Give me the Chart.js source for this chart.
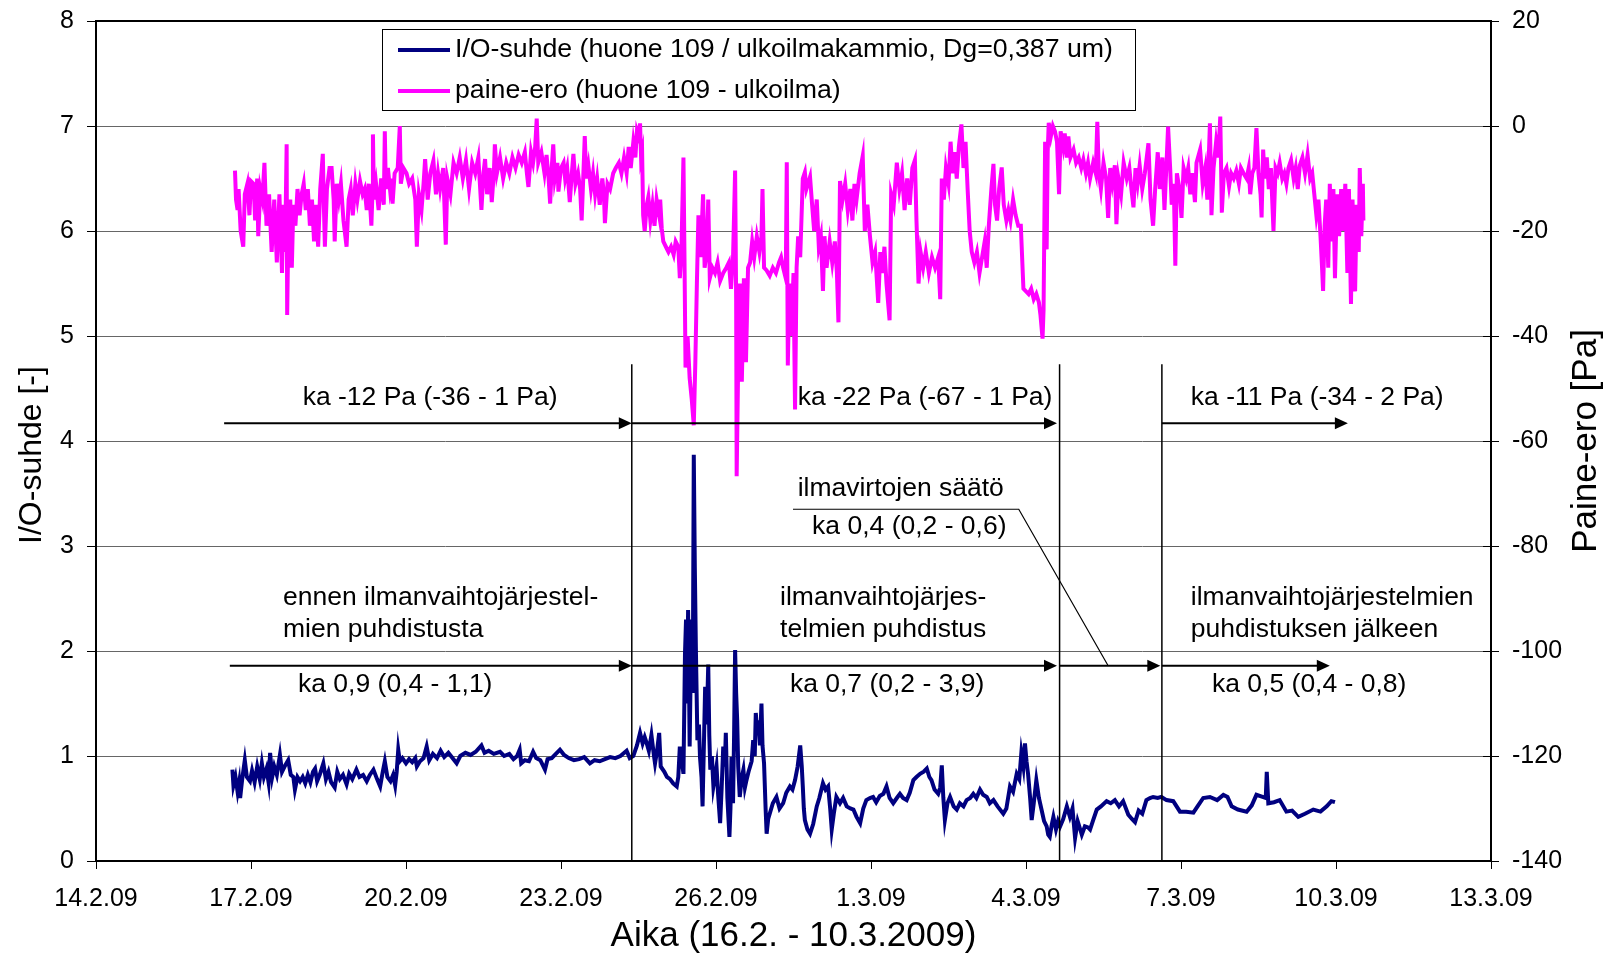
<!DOCTYPE html>
<html>
<head>
<meta charset="utf-8">
<title>I/O-suhde ja paine-ero</title>
<script src="https://cdn.jsdelivr.net/npm/chart.js@4.4.1/dist/chart.umd.min.js"></script>
<style>
  html, body { margin: 0; padding: 0; background: #fff; }
  #wrap { width: 1610px; height: 956px; }
</style>
</head>
<body>
<div id="wrap"><canvas id="ioChart" width="1610" height="956"></canvas></div>
<script>
// x = days since 14.2.2009 00:00
const xTickLabels = ['14.2.09', '17.2.09', '20.2.09', '23.2.09', '26.2.09', '1.3.09', '4.3.09', '7.3.09', '10.3.09', '13.3.09'];

const seriesLabels = [
  'I/O-suhde (huone 109 / ulkoilmakammio, Dg=0,387 um)',
  'paine-ero (huone 109 - ulkoilma)'
];

// I/O-suhde [-] (left axis), [day, value]
const ioRatio = [
  [2.64, 0.87], [2.66, 0.72], [2.70, 0.8], [2.74, 0.66], [2.77, 0.75], [2.79, 0.6], [2.83, 0.78], [2.88, 0.96],
  [2.92, 0.8], [2.98, 0.76], [3.02, 0.86], [3.07, 0.75], [3.12, 0.9], [3.17, 0.78], [3.21, 0.93], [3.25, 0.8],
  [3.30, 0.88], [3.34, 0.75], [3.37, 1.03], [3.41, 0.8], [3.45, 0.9], [3.50, 0.82], [3.56, 1.01], [3.60, 0.85],
  [3.65, 0.9], [3.72, 0.96], [3.77, 0.82], [3.82, 0.8], [3.85, 0.68], [3.90, 0.8], [3.95, 0.76], [4.00, 0.8],
  [4.05, 0.74], [4.10, 0.82], [4.15, 0.75], [4.20, 0.85], [4.24, 0.88], [4.28, 0.76], [4.33, 0.82], [4.40, 0.93],
  [4.45, 0.78], [4.50, 0.85], [4.55, 0.75], [4.62, 0.7], [4.67, 0.85], [4.72, 0.78], [4.78, 0.82], [4.85, 0.73],
  [4.90, 0.83], [4.96, 0.78], [5.04, 0.87], [5.10, 0.8], [5.17, 0.82], [5.24, 0.76], [5.30, 0.82], [5.37, 0.87],
  [5.44, 0.78], [5.50, 0.71], [5.55, 0.85], [5.59, 0.95], [5.64, 0.8], [5.70, 0.76], [5.75, 0.82], [5.79, 0.72],
  [5.82, 0.85], [5.85, 1.06], [5.88, 0.95], [5.93, 0.98], [6.00, 0.93], [6.06, 0.97], [6.12, 0.94], [6.18, 0.98],
  [6.21, 0.9], [6.27, 0.95], [6.34, 0.98], [6.40, 1.09], [6.45, 0.96], [6.52, 1.02], [6.60, 0.98], [6.67, 1.05],
  [6.74, 0.99], [6.82, 1.03], [6.90, 0.98], [6.98, 0.93], [7.05, 1.0], [7.15, 1.03], [7.25, 1.01], [7.35, 1.04],
  [7.46, 1.1], [7.52, 1.03], [7.60, 1.05], [7.70, 1.02], [7.82, 1.04], [7.90, 1.0], [8.00, 1.02], [8.08, 0.97],
  [8.15, 1.0], [8.20, 1.06], [8.23, 0.93], [8.30, 0.96], [8.38, 0.95], [8.46, 1.04], [8.52, 0.98], [8.60, 0.96],
  [8.69, 0.87], [8.74, 0.97], [8.82, 0.98], [8.90, 1.02], [8.98, 1.06], [9.06, 1.01], [9.15, 0.98], [9.25, 0.96],
  [9.35, 0.97], [9.45, 0.99], [9.56, 0.93], [9.65, 0.96], [9.75, 0.95], [9.85, 0.97], [9.95, 0.99], [10.05, 0.98],
  [10.15, 1.0], [10.27, 1.05], [10.33, 0.98], [10.40, 1.0], [10.47, 1.1], [10.53, 1.22], [10.58, 1.12], [10.62, 1.18],
  [10.66, 1.12], [10.70, 1.05], [10.75, 1.2], [10.80, 1.0], [10.82, 0.93], [10.86, 1.05], [10.90, 1.22], [10.93, 0.9],
  [11.00, 0.85], [11.05, 0.8], [11.11, 0.78], [11.17, 0.74], [11.24, 0.71], [11.27, 0.8], [11.30, 1.09], [11.34, 0.95],
  [11.37, 0.83], [11.40, 1.98], [11.42, 2.3], [11.44, 1.5], [11.46, 2.39], [11.48, 1.6], [11.49, 1.09], [11.51, 1.8],
  [11.53, 2.3], [11.55, 1.6], [11.57, 3.87], [11.59, 2.8], [11.61, 2.04], [11.64, 1.15], [11.67, 1.3], [11.69, 0.99],
  [11.72, 0.8], [11.74, 0.52], [11.77, 1.2], [11.79, 1.66], [11.82, 1.3], [11.85, 1.87], [11.87, 1.2], [11.89, 0.87],
  [11.92, 1.0], [11.95, 0.71], [11.98, 0.8], [12.01, 0.9], [12.04, 0.64], [12.06, 0.5], [12.08, 0.36], [12.11, 0.7],
  [12.14, 1.09], [12.17, 0.9], [12.19, 1.22], [12.22, 0.6], [12.26, 0.23], [12.28, 0.5], [12.30, 0.99], [12.33, 0.55],
  [12.35, 1.2], [12.37, 2.01], [12.39, 1.6], [12.41, 1.34], [12.43, 0.9], [12.46, 0.61], [12.50, 0.8], [12.53, 0.87],
  [12.56, 0.7], [12.59, 0.77], [12.63, 0.85], [12.66, 0.9], [12.69, 0.95], [12.72, 1.15], [12.75, 1.0], [12.77, 1.41],
  [12.80, 1.2], [12.82, 1.34], [12.85, 1.1], [12.88, 1.5], [12.90, 1.1], [12.93, 0.93], [12.96, 0.5], [12.98, 0.26],
  [13.01, 0.4], [13.04, 0.45], [13.10, 0.55], [13.17, 0.61], [13.23, 0.5], [13.30, 0.55], [13.36, 0.65], [13.43, 0.71],
  [13.48, 0.68], [13.53, 0.77], [13.58, 0.9], [13.63, 1.1], [13.66, 0.9], [13.68, 0.71], [13.70, 0.5], [13.72, 0.39],
  [13.77, 0.3], [13.82, 0.26], [13.88, 0.35], [13.95, 0.52], [14.00, 0.6], [14.07, 0.74], [14.12, 0.68], [14.17, 0.71],
  [14.21, 0.5], [14.24, 0.3], [14.28, 0.45], [14.33, 0.61], [14.40, 0.55], [14.46, 0.6], [14.53, 0.52], [14.60, 0.5],
  [14.66, 0.49], [14.72, 0.42], [14.79, 0.36], [14.85, 0.5], [14.91, 0.58], [14.98, 0.6], [15.04, 0.61], [15.10, 0.56],
  [15.17, 0.62], [15.24, 0.64], [15.30, 0.71], [15.36, 0.6], [15.43, 0.55], [15.50, 0.6], [15.56, 0.64], [15.62, 0.6],
  [15.69, 0.58], [15.75, 0.65], [15.82, 0.77], [15.88, 0.8], [15.95, 0.83], [16.02, 0.85], [16.08, 0.88], [16.13, 0.8],
  [16.17, 0.77], [16.23, 0.68], [16.30, 0.64], [16.34, 0.7], [16.37, 0.91], [16.40, 0.6], [16.43, 0.39], [16.48, 0.55],
  [16.53, 0.61], [16.60, 0.52], [16.66, 0.49], [16.72, 0.55], [16.79, 0.52], [16.85, 0.58], [16.92, 0.6], [16.98, 0.64],
  [17.04, 0.6], [17.11, 0.68], [17.17, 0.63], [17.24, 0.61], [17.30, 0.55], [17.37, 0.58], [17.45, 0.52], [17.56, 0.45],
  [17.62, 0.5], [17.69, 0.71], [17.75, 0.66], [17.82, 0.83], [17.87, 0.78], [17.91, 1.03], [17.95, 0.9], [17.98, 1.12],
  [18.01, 0.95], [18.04, 0.83], [18.08, 0.6], [18.11, 0.39], [18.15, 0.55], [18.20, 0.77], [18.25, 0.6], [18.30, 0.49],
  [18.35, 0.38], [18.40, 0.33], [18.43, 0.25], [18.46, 0.23], [18.50, 0.35], [18.53, 0.42], [18.58, 0.3], [18.62, 0.38],
  [18.66, 0.33], [18.72, 0.4], [18.79, 0.52], [18.85, 0.42], [18.90, 0.5], [18.95, 0.22], [19.00, 0.38], [19.05, 0.3],
  [19.08, 0.25], [19.14, 0.33], [19.20, 0.32], [19.24, 0.3], [19.30, 0.39], [19.37, 0.49], [19.45, 0.52], [19.56, 0.57],
  [19.64, 0.55], [19.72, 0.58], [19.80, 0.52], [19.88, 0.57], [19.98, 0.44], [20.05, 0.4], [20.11, 0.37], [20.18, 0.48],
  [20.25, 0.45], [20.33, 0.58], [20.40, 0.6], [20.46, 0.61], [20.55, 0.6], [20.62, 0.61], [20.72, 0.58], [20.85, 0.57],
  [20.98, 0.47], [21.10, 0.47], [21.24, 0.46], [21.32, 0.52], [21.43, 0.6], [21.56, 0.61], [21.70, 0.58], [21.82, 0.63],
  [21.90, 0.61], [21.98, 0.52], [22.10, 0.49], [22.27, 0.47], [22.37, 0.53], [22.46, 0.63], [22.58, 0.61], [22.64, 0.6],
  [22.66, 0.85], [22.69, 0.55], [22.80, 0.56], [22.91, 0.58], [23.04, 0.47], [23.15, 0.48], [23.27, 0.42], [23.40, 0.45],
  [23.56, 0.49], [23.70, 0.47], [23.82, 0.52], [23.91, 0.57], [23.98, 0.56]
];

// paine-ero [Pa] (right axis), [day, value]
const pressureDiff = [
  [2.69, -8.5], [2.71, -14], [2.74, -16], [2.76, -12], [2.80, -20], [2.85, -23], [2.88, -13], [2.93, -11],
  [2.97, -17], [3.00, -10.5], [3.05, -11], [3.08, -18], [3.12, -10], [3.14, -21], [3.18, -12], [3.22, -14],
  [3.26, -7], [3.30, -19], [3.35, -13], [3.40, -24], [3.45, -14], [3.50, -26], [3.55, -13], [3.60, -28],
  [3.63, -15], [3.66, -24], [3.69, -3.5], [3.70, -36], [3.72, -22], [3.76, -14], [3.79, -27], [3.82, -15],
  [3.86, -19], [3.90, -12], [3.94, -17], [3.98, -13], [4.02, -11], [4.06, -16], [4.10, -12], [4.14, -19],
  [4.18, -14], [4.22, -22], [4.26, -15], [4.30, -23], [4.34, -12], [4.39, -5.3], [4.41, -15], [4.43, -23],
  [4.47, -12], [4.52, -8], [4.56, -8], [4.60, -14], [4.62, -22], [4.66, -11], [4.70, -14], [4.74, -11],
  [4.79, -18], [4.85, -23], [4.89, -14], [4.93, -12], [4.97, -17], [5.02, -11], [5.06, -14], [5.11, -10.5],
  [5.16, -13], [5.20, -12], [5.24, -16], [5.28, -11], [5.33, -19], [5.35, -13], [5.36, -1.6], [5.38, -14],
  [5.42, -11], [5.47, -16], [5.52, -10], [5.57, -15], [5.59, -1], [5.61, -12], [5.65, -8], [5.69, -12],
  [5.72, -10], [5.74, -14.8], [5.78, -9], [5.84, -8], [5.88, 0], [5.90, -11], [5.95, -8], [6.01, -9],
  [6.06, -11], [6.12, -10], [6.18, -14], [6.21, -23], [6.25, -13], [6.30, -16], [6.34, -11], [6.37, -6.3],
  [6.42, -14], [6.47, -9], [6.53, -6.6], [6.58, -13], [6.62, -9], [6.66, -12], [6.72, -8], [6.77, -22.6],
  [6.80, -10], [6.86, -13], [6.92, -7], [6.98, -9], [7.04, -6], [7.10, -10], [7.16, -6.5], [7.22, -12],
  [7.28, -7], [7.34, -9], [7.40, -6], [7.46, -16], [7.50, -9], [7.53, -6.3], [7.57, -13], [7.62, -8],
  [7.66, -14.5], [7.70, -9], [7.72, -3.5], [7.76, -9], [7.82, -6], [7.88, -10], [7.94, -7], [8.00, -9],
  [8.06, -6], [8.12, -8], [8.18, -5.5], [8.24, -7], [8.30, -5], [8.34, -9], [8.37, -11.6], [8.42, -5],
  [8.46, -7], [8.50, -4], [8.53, 1.4], [8.56, -7], [8.62, -5], [8.68, -9], [8.72, -5.5], [8.76, -10],
  [8.79, -14.8], [8.82, -8], [8.85, -3.5], [8.88, -10], [8.93, -7], [8.95, -12.5], [9.00, -8], [9.05, -7],
  [9.08, -10], [9.12, -8], [9.17, -14.5], [9.21, -9], [9.24, -5.3], [9.28, -11], [9.33, -9], [9.37, -12],
  [9.40, -18], [9.43, -10], [9.46, -1.9], [9.49, -10], [9.53, -7.5], [9.58, -12], [9.62, -9], [9.66, -13],
  [9.70, -10], [9.75, -15], [9.80, -10], [9.83, -13], [9.85, -18.5], [9.90, -11], [9.95, -12], [10.01, -9],
  [10.06, -8], [10.12, -7], [10.17, -9], [10.22, -6], [10.27, -9], [10.31, -4], [10.35, -8], [10.40, -3],
  [10.44, -6], [10.47, -1], [10.50, -2], [10.53, 0.5], [10.55, -6], [10.57, -5], [10.59, -17], [10.62, -20],
  [10.66, -15], [10.69, -13.5], [10.73, -18], [10.77, -15], [10.81, -19], [10.85, -14], [10.90, -17], [10.92, -14],
  [10.95, -19.5], [10.98, -22], [11.03, -23], [11.08, -24], [11.13, -23], [11.18, -24.5], [11.22, -22], [11.27, -23],
  [11.30, -29], [11.33, -24], [11.37, -6], [11.39, -25], [11.41, -46], [11.45, -40], [11.49, -48], [11.53, -52],
  [11.57, -57], [11.60, -45], [11.63, -30], [11.66, -17], [11.70, -25], [11.75, -13], [11.78, -27], [11.82, -24],
  [11.85, -14], [11.88, -29], [11.93, -27], [11.98, -28], [12.03, -26], [12.08, -29.5], [12.14, -28], [12.20, -27],
  [12.25, -26], [12.29, -31], [12.33, -25], [12.37, -8.5], [12.39, -33], [12.40, -66.7], [12.43, -45], [12.46, -30],
  [12.50, -48.7], [12.54, -29], [12.58, -45], [12.62, -27], [12.66, -26], [12.70, -22], [12.74, -25], [12.79, -21],
  [12.84, -24], [12.88, -21], [12.90, -12], [12.93, -27], [12.98, -27.5], [13.04, -28.5], [13.10, -27], [13.16, -28],
  [13.22, -26], [13.26, -25], [13.30, -27], [13.35, -29], [13.37, -6.9], [13.39, -45.6], [13.42, -30], [13.46, -40],
  [13.50, -28], [13.53, -54], [13.56, -27], [13.59, -21], [13.63, -25], [13.68, -10], [13.72, -8.8], [13.75, -12],
  [13.78, -11], [13.82, -9.7], [13.86, -15], [13.90, -20], [13.95, -14], [13.99, -23], [14.03, -21], [14.07, -31.4],
  [14.10, -21], [14.14, -27], [14.20, -22], [14.25, -26], [14.30, -22], [14.34, -28], [14.37, -37.4], [14.40, -10.5],
  [14.45, -14], [14.50, -11], [14.55, -16], [14.60, -12], [14.64, -18], [14.68, -11], [14.72, -14], [14.78, -9],
  [14.84, -5.7], [14.88, -20], [14.93, -15], [14.98, -21], [15.03, -26], [15.08, -24], [15.14, -33.7], [15.18, -24],
  [15.22, -28], [15.26, -23], [15.30, -30], [15.36, -37], [15.39, -13], [15.44, -15], [15.50, -7], [15.55, -12],
  [15.60, -9], [15.65, -16], [15.70, -10], [15.75, -15], [15.80, -8], [15.85, -6.5], [15.88, -18], [15.92, -30],
  [15.96, -24], [16.01, -27], [16.06, -24], [16.12, -28], [16.18, -25], [16.24, -27], [16.30, -25], [16.34, -33],
  [16.37, -10], [16.41, -14], [16.45, -8], [16.50, -11], [16.54, -3], [16.58, -9], [16.62, -5], [16.66, -10],
  [16.70, -4], [16.75, 0.3], [16.79, -8], [16.83, -3], [16.87, -12], [16.91, -20], [16.95, -24], [17.00, -26],
  [17.05, -24], [17.10, -28], [17.15, -25], [17.20, -22], [17.24, -27], [17.28, -19], [17.33, -12], [17.37, -7.2],
  [17.40, -15], [17.44, -18], [17.48, -12], [17.53, -7.9], [17.57, -15], [17.62, -18], [17.66, -16], [17.70, -18],
  [17.75, -14], [17.80, -17], [17.85, -19], [17.90, -19], [17.95, -31], [18.00, -31.5], [18.05, -32], [18.10, -31],
  [18.15, -33], [18.20, -32], [18.25, -33.6], [18.28, -36], [18.32, -40.5], [18.34, -35], [18.37, -3], [18.40, -23.5],
  [18.42, -5], [18.44, 0.6], [18.48, -2], [18.52, 0], [18.56, -1], [18.60, -3], [18.64, -13], [18.67, -1],
  [18.72, -4], [18.75, -1.4], [18.79, -6], [18.82, -2], [18.86, -6], [18.92, -4.5], [18.97, -7], [19.02, -6],
  [19.07, -8], [19.11, -6.4], [19.16, -9], [19.20, -7], [19.24, -10], [19.30, -7], [19.35, -9], [19.38, 0.8],
  [19.41, -9], [19.45, -12], [19.50, -7], [19.55, -10], [19.59, -17.5], [19.63, -8], [19.67, -11], [19.72, -7.5],
  [19.75, -18.7], [19.79, -10], [19.84, -13], [19.89, -7], [19.95, -10], [20.00, -8], [20.04, -12], [20.08, -15.5],
  [20.12, -8], [20.16, -11], [20.20, -7.5], [20.25, -12], [20.30, -9], [20.37, -3.3], [20.41, -14], [20.46, -19],
  [20.50, -12], [20.55, -5], [20.59, -12], [20.64, -6], [20.68, -16], [20.72, -7], [20.75, -0.1], [20.79, -8],
  [20.82, -15], [20.86, -11], [20.89, -26.6], [20.92, -9], [20.97, -12], [21.01, -17.5], [21.05, -8], [21.10, -10],
  [21.14, -8], [21.18, -13], [21.22, -9], [21.27, -14.5], [21.30, -7], [21.37, -4.5], [21.42, -11], [21.47, -8],
  [21.51, -14], [21.56, 0.5], [21.59, -17], [21.63, -8], [21.68, -3], [21.72, -6], [21.76, 1.8], [21.79, -16.5],
  [21.83, -9], [21.88, -8], [21.93, -11.5], [21.97, -9], [22.02, -10], [22.07, -8.5], [22.12, -11], [22.16, -8],
  [22.21, -9], [22.27, -10], [22.31, -8], [22.34, -13], [22.38, -9], [22.42, -8], [22.46, -0.4], [22.50, -9],
  [22.54, -13], [22.56, -17.4], [22.59, -4.5], [22.62, -10], [22.66, -6], [22.70, -12], [22.74, -8], [22.79, -20],
  [22.83, -8], [22.87, -9], [22.91, -7], [22.96, -10], [23.00, -9], [23.04, -11], [23.08, -8], [23.13, -6.5],
  [23.18, -10], [23.22, -8], [23.26, -12], [23.30, -7.5], [23.35, -6], [23.40, -9], [23.45, -5.5], [23.50, -10],
  [23.54, -9], [23.58, -13], [23.62, -17], [23.66, -14], [23.70, -21], [23.73, -27], [23.75, -31.4], [23.78, -19],
  [23.81, -14], [23.85, -27], [23.88, -11], [23.92, -22], [23.95, -12], [23.98, -29], [24.02, -13], [24.06, -21],
  [24.10, -12], [24.14, -20], [24.18, -11], [24.22, -28], [24.25, -12], [24.29, -33.9], [24.32, -14], [24.35, -25],
  [24.37, -31.5], [24.40, -15], [24.44, -24], [24.46, -8], [24.49, -21], [24.52, -11], [24.53, -18]
];

// period borders (days) and the annotation texts
const phaseBorders = [10.37, 18.65, 20.63];
const pressureNotes = ['ka -12 Pa (-36 - 1 Pa)', 'ka -22 Pa (-67 - 1 Pa)', 'ka -11 Pa (-34 - 2 Pa)'];
const ratioNotes = ['ka 0,9 (0,4 - 1,1)', 'ka 0,7 (0,2 - 3,9)', 'ka 0,5 (0,4 - 0,8)'];
const phaseNames = [
  ['ennen ilmanvaihtojärjestel-', 'mien puhdistusta'],
  ['ilmanvaihtojärjes-', 'telmien puhdistus'],
  ['ilmanvaihtojärjestelmien', 'puhdistuksen jälkeen']
];
const adjustNote = ['ilmavirtojen säätö', 'ka 0,4 (0,2 - 0,6)'];

const FONT = '"Liberation Sans", Arial, sans-serif';
const TICK_FONT = { family: FONT, size: 25 };

function arrow(ctx, x1, x2, y) {
  ctx.beginPath();
  ctx.moveTo(x1, y);
  ctx.lineTo(x2 - 10, y);
  ctx.stroke();
  ctx.beginPath();
  ctx.moveTo(x2, y);
  ctx.lineTo(x2 - 13, y - 6);
  ctx.lineTo(x2 - 13, y + 6);
  ctx.closePath();
  ctx.fill();
}

function verticalTitle(ctx, text, cx, cy, size) {
  ctx.save();
  ctx.font = size + 'px ' + FONT;
  ctx.fillStyle = '#000';
  ctx.textAlign = 'center';
  ctx.textBaseline = 'middle';
  ctx.translate(cx, cy);
  ctx.rotate(-Math.PI / 2);
  ctx.fillText(text, 0, 0);
  ctx.restore();
}

const annotationPlugin = {
  id: 'annotations',
  afterDatasetsDraw(chart) {
    const { ctx, chartArea, scales: { x, y, y2 } } = chart;
    ctx.save();
    ctx.strokeStyle = '#000';
    ctx.fillStyle = '#000';

    // plot border on top
    ctx.lineWidth = 2;
    ctx.beginPath();
    ctx.moveTo(chartArea.left, chartArea.top);
    ctx.lineTo(chartArea.right, chartArea.top);
    ctx.stroke();

    // inner half of the right axis tick marks
    ctx.lineWidth = 1;
    y2.ticks.forEach(t => {
      const py = Math.round(y2.getPixelForValue(t.value)) + 0.5;
      ctx.beginPath();
      ctx.moveTo(chartArea.right - 8, py);
      ctx.lineTo(chartArea.right, py);
      ctx.stroke();
    });

    // period border lines
    ctx.lineWidth = 1.5;
    phaseBorders.forEach(d => {
      ctx.beginPath();
      ctx.moveTo(x.getPixelForValue(d), y.getPixelForValue(4.73));
      ctx.lineTo(x.getPixelForValue(d), y.getPixelForValue(0));
      ctx.stroke();
    });

    // arrows
    ctx.lineWidth = 2;
    const yP = y.getPixelForValue(4.17);
    const yR = y.getPixelForValue(1.86);
    arrow(ctx, x.getPixelForValue(2.48), x.getPixelForValue(10.37), yP);
    arrow(ctx, x.getPixelForValue(10.37), x.getPixelForValue(18.6), yP);
    arrow(ctx, x.getPixelForValue(20.63), x.getPixelForValue(24.23), yP);
    arrow(ctx, x.getPixelForValue(2.59), x.getPixelForValue(10.37), yR);
    arrow(ctx, x.getPixelForValue(10.37), x.getPixelForValue(18.6), yR);
    arrow(ctx, x.getPixelForValue(18.65), x.getPixelForValue(20.6), yR);
    arrow(ctx, x.getPixelForValue(20.63), x.getPixelForValue(23.88), yR);

    // leader line for "ilmavirtojen säätö"
    ctx.lineWidth = 1.2;
    ctx.beginPath();
    ctx.moveTo(x.getPixelForValue(13.49), y.getPixelForValue(3.35));
    ctx.lineTo(x.getPixelForValue(17.86), y.getPixelForValue(3.35));
    ctx.lineTo(x.getPixelForValue(19.59), yR);
    ctx.stroke();

    // texts
    ctx.font = '26.5px ' + FONT;
    ctx.textAlign = 'left';
    ctx.textBaseline = 'middle';
    const noteX = [4.0, 13.58, 21.19];
    pressureNotes.forEach((t, i) => ctx.fillText(t, x.getPixelForValue(noteX[i]), y.getPixelForValue(4.41)));
    const ratioX = [3.91, 13.43, 21.6];
    ratioNotes.forEach((t, i) => ctx.fillText(t, x.getPixelForValue(ratioX[i]), y.getPixelForValue(1.68)));
    const nameX = [3.62, 13.24, 21.19];
    phaseNames.forEach((lines, i) => {
      ctx.fillText(lines[0], x.getPixelForValue(nameX[i]), y.getPixelForValue(2.51));
      ctx.fillText(lines[1], x.getPixelForValue(nameX[i]), y.getPixelForValue(2.2));
    });
    ctx.fillText(adjustNote[0], x.getPixelForValue(13.58), y.getPixelForValue(3.55));
    ctx.fillText(adjustNote[1], x.getPixelForValue(13.86), y.getPixelForValue(3.18));

    ctx.restore();
  },
  afterDraw(chart) {
    const { ctx, chartArea, data } = chart;
    const midY = (chartArea.top + chartArea.bottom) / 2;

    // axis titles, both read bottom to top
    verticalTitle(ctx, 'I/O-suhde [-]', 32, midY + 14, 32);
    verticalTitle(ctx, 'Paine-ero [Pa]', 1586, midY, 35);

    // legend box
    ctx.save();
    const bx = chartArea.left + 286, by = chartArea.top + 8, bw = 753, bh = 81;
    ctx.fillStyle = '#fff';
    ctx.fillRect(bx, by, bw, bh);
    ctx.strokeStyle = '#000';
    ctx.lineWidth = 1;
    ctx.strokeRect(bx + 0.5, by + 0.5, bw, bh);
    ctx.font = '26.7px ' + FONT;
    ctx.textAlign = 'left';
    ctx.textBaseline = 'middle';
    data.datasets.forEach((ds, i) => {
      const ly = by + 21 + i * 41;
      ctx.strokeStyle = ds.borderColor;
      ctx.lineWidth = 4;
      ctx.beginPath();
      ctx.moveTo(bx + 16, ly);
      ctx.lineTo(bx + 68, ly);
      ctx.stroke();
      ctx.fillStyle = '#000';
      ctx.fillText(ds.label, bx + 73, ly);
    });
    ctx.restore();
  }
};

const toXY = arr => arr.map(p => ({ x: p[0], y: p[1] }));

new Chart(document.getElementById('ioChart'), {
  type: 'line',
  data: {
    datasets: [
      {
        label: seriesLabels[0],
        data: toXY(ioRatio),
        yAxisID: 'y',
        borderColor: '#000080',
        borderWidth: 4,
        pointRadius: 0,
        tension: 0
      },
      {
        label: seriesLabels[1],
        data: toXY(pressureDiff),
        yAxisID: 'y2',
        borderColor: '#FF00FF',
        borderWidth: 4,
        pointRadius: 0,
        tension: 0
      }
    ]
  },
  options: {
    responsive: false,
    animation: false,
    devicePixelRatio: 1,
    layout: { padding: { top: 21, left: 0, right: 0, bottom: 0 } },
    plugins: { legend: { display: false }, tooltip: { enabled: false } },
    scales: {
      x: {
        type: 'linear',
        min: 0,
        max: 27,
        afterFit: s => { s.height = 95; s.paddingLeft = 0; s.paddingRight = 0; },
        afterBuildTicks: s => { s.ticks = xTickLabels.map((_, i) => ({ value: i * 3 })); },
        ticks: {
          callback: (v, i) => xTickLabels[i],
          color: '#000',
          font: TICK_FONT,
          padding: 15,
          maxRotation: 0,
          autoSkip: false
        },
        grid: { drawOnChartArea: false, color: '#000', tickLength: 8 },
        border: { color: '#000', width: 2 },
        title: {
          display: true,
          text: 'Aika (16.2. - 10.3.2009)',
          color: '#000',
          font: { family: FONT, size: 35, lineHeight: 1 },
          padding: { top: 0, bottom: 2 }
        }
      },
      y: {
        position: 'left',
        min: 0,
        max: 8,
        afterFit: s => { s.width = 96; s.paddingTop = 0; s.paddingBottom = 0; },
        ticks: { stepSize: 1, color: '#000', font: TICK_FONT, padding: 13 },
        grid: { color: '#666', tickColor: '#000', tickLength: 9, lineWidth: 1 },
        border: { color: '#000', width: 2 }
      },
      y2: {
        position: 'right',
        min: -140,
        max: 20,
        afterFit: s => { s.width = 119; s.paddingTop = 0; s.paddingBottom = 0; },
        ticks: { stepSize: 20, color: '#000', font: TICK_FONT, padding: 13 },
        grid: { drawOnChartArea: false, color: '#000', tickLength: 8 },
        border: { color: '#000', width: 2 }
      }
    }
  },
  plugins: [annotationPlugin]
});
</script>
</body>
</html>
